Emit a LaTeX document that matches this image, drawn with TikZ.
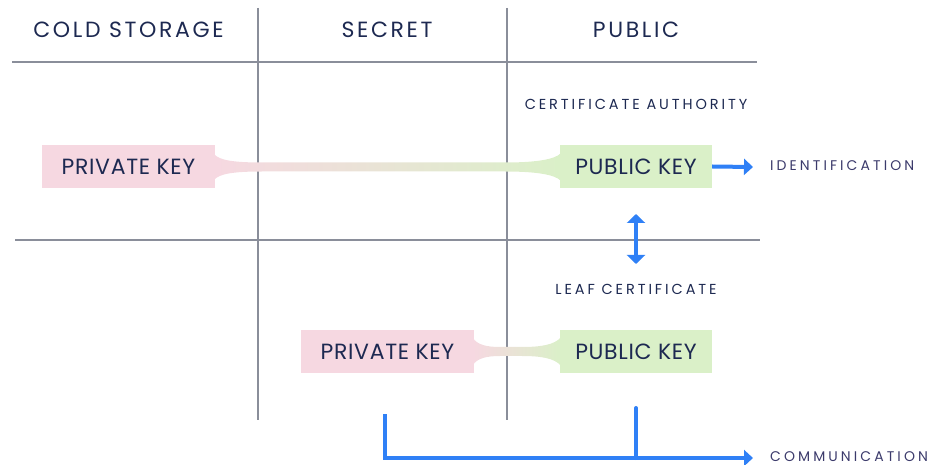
\documentclass[tikz,border=0pt]{standalone}
\usepackage{fontspec}
\setmainfont{Poppins}
\newfontfamily\hdrfont[LetterSpace=12]{Poppins}
\newfontfamily\boxfont[LetterSpace=3]{Poppins}
\newfontfamily\lblfont[LetterSpace=20]{Poppins}
\newfontfamily\sidefont[LetterSpace=22]{Poppins}
\usetikzlibrary{arrows.meta}
\definecolor{navy}{HTML}{1D2951}
\definecolor{lblc}{HTML}{3B3A6B}
\definecolor{gridc}{HTML}{8A8E9A}
\definecolor{pinkc}{HTML}{F6D8E1}
\definecolor{greenc}{HTML}{DAF0C8}
\definecolor{bluec}{HTML}{2F80F6}
\tikzset{
  gridline/.style={draw=gridc, line width=1.4pt},
  hdr/.style={text=navy, font=\hdrfont\fontsize{22}{26}\selectfont, inner sep=0pt},
  keybox/.style={inner sep=0pt, minimum height=43pt, text=navy, font=\boxfont\fontsize{22}{26}\selectfont},
  privbox/.style={keybox, fill=pinkc, minimum width=173pt},
  pubbox/.style={keybox, fill=greenc, minimum width=152pt},
  smalllbl/.style={text=navy, font=\lblfont\fontsize{14.5}{17}\selectfont, inner sep=0pt},
  sidelbl/.style={text=lblc, font=\sidefont\fontsize{14}{17}\selectfont, inner sep=0pt, anchor=west},
  arr/.style={draw=bluec, line width=4pt, -{Triangle[length=9pt,width=16pt]}},
  darr/.style={draw=bluec, line width=4pt, {Triangle[length=9pt,width=18pt]}-{Triangle[length=9pt,width=18pt]}},
  brk/.style={draw=bluec, line width=4pt, line cap=round},
}
\begin{document}
\begin{tikzpicture}[x=1pt,y=-1pt]
\useasboundingbox (0,0) rectangle (930,465);
% grid
\draw[gridline] (258,8) -- (258,420);
\draw[gridline] (507,8) -- (507,420);
\draw[gridline] (12,62) -- (757,62);
\draw[gridline] (15,240) -- (760,240);
% headers
\node[hdr] (h1) at (128.5,30) {COLD STORAGE};
\node[hdr] (h2) at (387,30) {SECRET};
\node[hdr] (h3) at (636,30) {PUBLIC};
% ribbons
\shade[left color=pinkc, right color=greenc]
  (214,154) .. controls (219,160) and (232,162.5) .. (262,162.5) -- (505,162.5)
  .. controls (533,162.5) and (555,160) .. (561,153) -- (561,181)
  .. controls (555,174) and (533,171.5) .. (505,171.5) -- (262,171.5)
  .. controls (232,171.5) and (219,174) .. (214,180) -- cycle;
\shade[left color=pinkc, right color=greenc]
  (473,338) .. controls (477,344.5) and (486,347) .. (500,347) -- (522,347)
  .. controls (540,347) and (555,345) .. (561,337) -- (561,366)
  .. controls (555,358) and (540,356) .. (522,356) -- (500,356)
  .. controls (486,356) and (477,358.5) .. (473,365) -- cycle;
% boxes
\node[privbox] (priv1) at (128.5,166.5) {PRIVATE KEY};
\node[pubbox] (pub1) at (636,166.5) {PUBLIC KEY};
\node[privbox] (priv2) at (387.5,351.5) {PRIVATE KEY};
\node[pubbox] (pub2) at (636,351.5) {PUBLIC KEY};
% labels
\node[smalllbl] (ca) at (636,104) {CERTIFICATE AUTHORITY};
\node[smalllbl] (leaf) at (636,289) {LEAF CERTIFICATE};
\node[sidelbl] (ident) at (770,166) {IDENTIFICATION};
\node[sidelbl] (comm) at (770,457) {COMMUNICATION};
% arrows
\coordinate (identend) at (753,167);
\draw[arr] (pub1.east) -- (identend);
\coordinate (dtop) at (636,214);
\coordinate (dbot) at (636,264);
\draw[darr] (dtop) -- (dbot);
\coordinate (cl) at (385,414);
\coordinate (cr) at (636,408);
\coordinate (crb) at (636,458);
\coordinate (cend) at (753,458);
\draw[brk] (cr) -- (crb);
\draw[arr] (cl) -- (385,458) -- (cend);
\end{tikzpicture}
\end{document}
